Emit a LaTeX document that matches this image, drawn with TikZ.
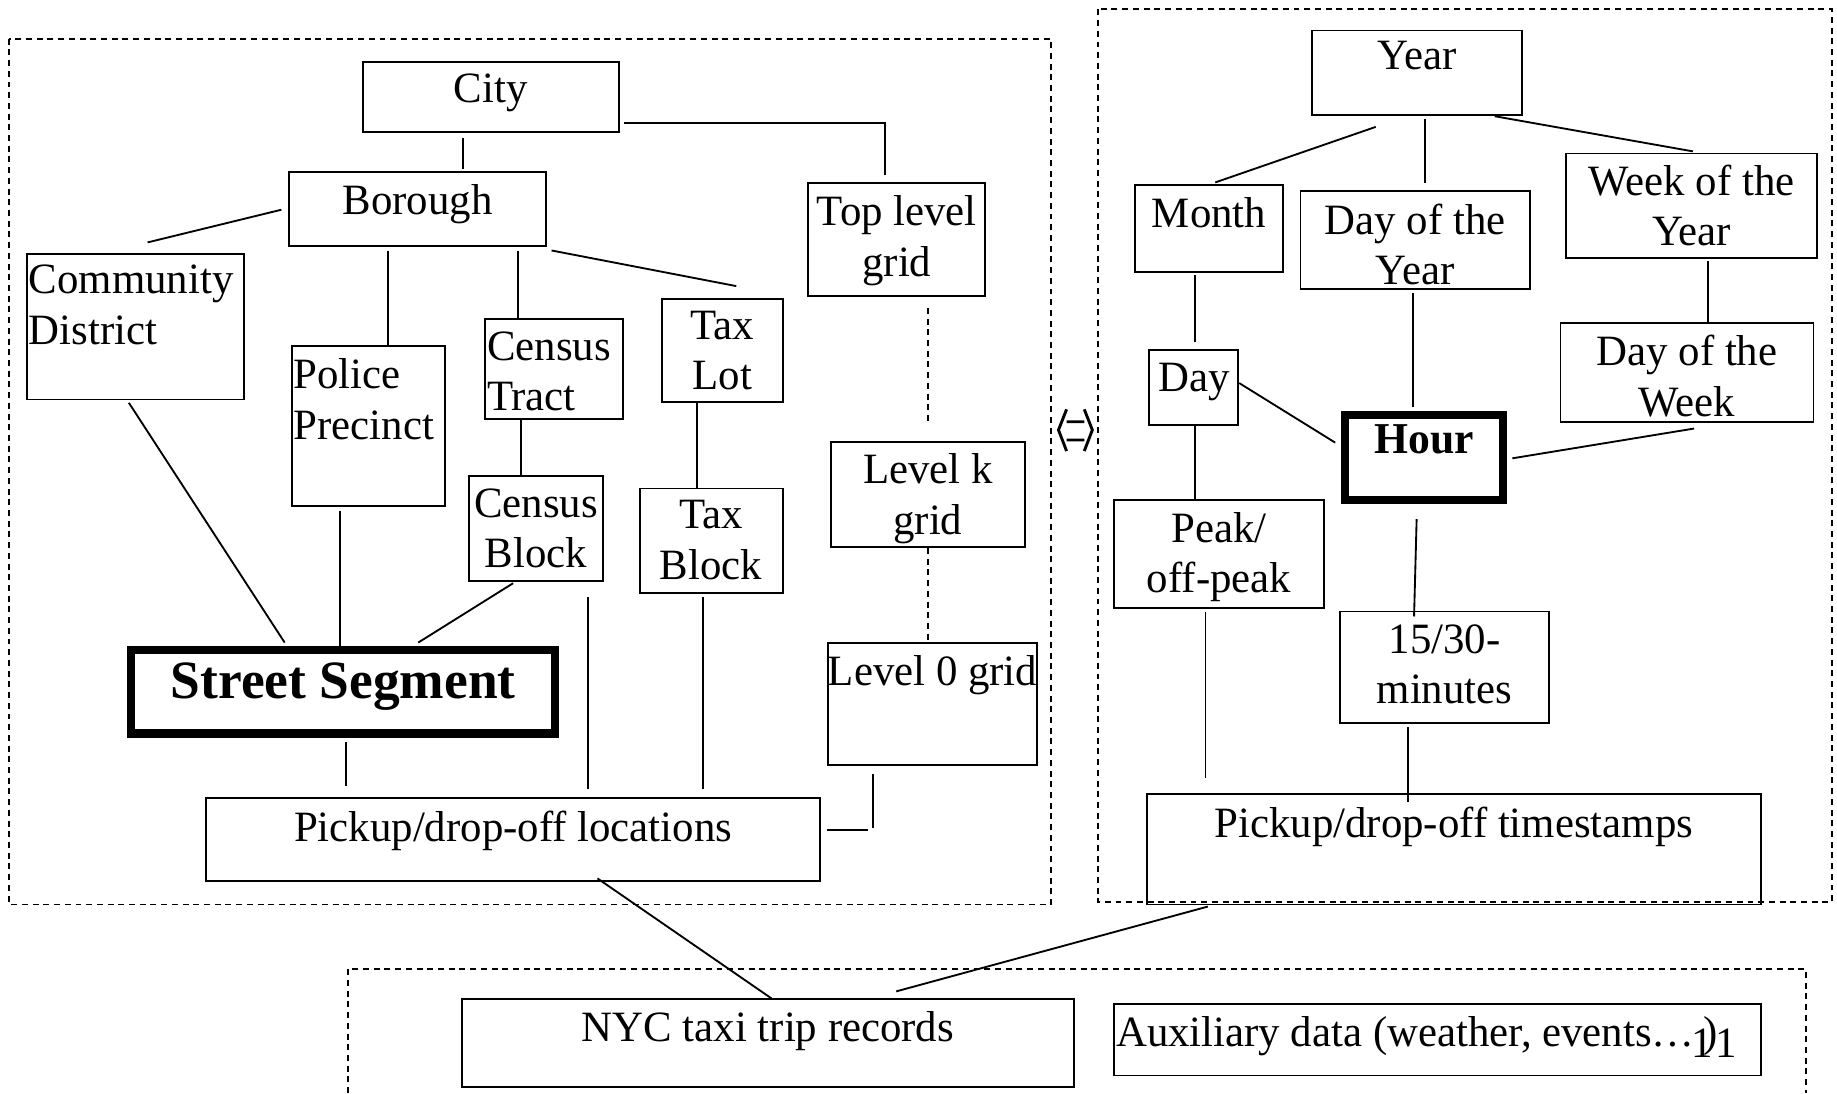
\documentclass[tikz,border=0pt]{standalone}
\usepackage{fontspec}
\setmainfont{Liberation Serif}[FakeStretch=0.99]
\usetikzlibrary{fit}

% a framed cell spanning two corner points
\newcommand\mkbox[4][]{\node[frm,#1,fit={#3 #4}] (#2) {};}

\begin{document}
\begin{tikzpicture}[x=0.01cm,y=-0.01cm,
  frm/.style={draw,rectangle,inner sep=0pt,line width=0.45pt},
  heavy/.style={line width=2pt},
  txt/.style={inner sep=0pt,yshift=0.7pt},
  lbl/.style={txt,align=center,font=\fontsize{10.5}{12.23}\selectfont},
  lblL/.style={lbl,align=left},
  link/.style={line width=0.45pt},
  dlink/.style={link,dash pattern=on 1.45pt off 1.15pt},
  panel/.style={line width=0.45pt,dash pattern=on 1.45pt off 1.15pt}]
\useasboundingbox (0,0) rectangle (1568,933);

% ---------- dashed group frames ----------
\draw[panel] (8,33) rectangle (897,772);
\draw[panel] (937,8) rectangle (1564,770);
\draw[panel] (297,933) -- (297,827) -- (1541.5,827) -- (1541.5,933);

% ---------- spatial hierarchy ----------
\mkbox{city}{(310,53)}{(528,113)}
\mkbox{borough}{(247,147)}{(466,210)}
\mkbox{comm}{(23,217)}{(208,341)}
\mkbox{police}{(249,295)}{(380,432)}
\mkbox{tract}{(414,272)}{(532,358)}
\mkbox{taxlot}{(565,255)}{(668,343)}
\mkbox{block}{(400,406)}{(515,496)}
\mkbox{taxblock}{(546,417)}{(668,506)}
\mkbox{toplvl}{(690,156)}{(841,253)}
\mkbox{lvlk}{(709,377)}{(875,467)}
\mkbox{lvl0}{(707,549)}{(885,653)}
\mkbox[heavy]{street}{(112,555)}{(474,626)}
\mkbox{loc}{(176,681)}{(700,752)}

\node[lbl,anchor=north] (cityT) at (419,65) {City};
\node[lbl,anchor=north] (boroughT) at (356.5,159) {Borough};
\node[lblL,anchor=north west] (commT) at (24,228) {Community\\District};
\node[lblL,anchor=north west] (policeT) at (250,308) {Police\\Precinct};
\node[lblL,anchor=north west] (tractT) at (415,285) {Census\\Tract};
\node[lbl,anchor=north] (taxlotT) at (616.5,267) {Tax\\Lot};
\node[lbl,anchor=north] (blockT) at (457.5,419) {Census\\Block};
\node[lbl,anchor=north] (taxblockT) at (607,429) {Tax\\Block};
\node[lbl,anchor=north] (toplvlT) at (765.5,169) {Top level\\grid};
\node[lbl,anchor=north] (lvlkT) at (792,389) {Level k\\grid};
\node[lbl,anchor=north] (lvl0T) at (796,561) {Level 0 grid};
\node[txt,anchor=north,font=\bfseries\fontsize{13.1}{16}\selectfont] (streetT) at (293,567.6) {Street Segment};
\node[lbl,anchor=north] (locT) at (438,694) {Pickup/drop-off locations};

\draw[link] ([shift={(-24,4)}]city.south) -- ([shift={(38.5,-2)}]borough.north);
\draw[link] ([shift={(4,22)}]city.east) -| ([shift={(-10,-6)}]toplvl.north);
\draw[link] ([shift={(-6,0.5)}]borough.west) -- ([shift={(10.5,-9.3)}]comm.north);
\draw[link] ([shift={(-25,3.4)}]borough.south) -- ([shift={(17,0)}]police.north);
\draw[link] ([shift={(85.5,3.4)}]borough.south) -- ([shift={(-31,0)}]tract.north);
\draw[link] ([shift={(4,3)}]borough.south east) -- ([shift={(12,-10)}]taxlot.north);
\draw[link] ([shift={(-28,0)}]tract.south) -- ([shift={(-12.5,0)}]block.north);
\draw[link] ([shift={(-21.5,0)}]taxlot.south) -- ([shift={(-12,0)}]taxblock.north);
\draw[dlink] ([shift={(26.5,9)}]toplvl.south) -- ([shift={(0,-13)}]lvlk.north);
\draw[dlink] (lvlk.south) -- ([shift={(-4,0)}]lvl0.north);
\draw[link] ([shift={(-5.5,2)}]comm.south) -- ([shift={(-50,-3)}]street.north);
\draw[link] ([shift={(-24.5,3)}]police.south) -- ([shift={(-3,0)}]street.north);
\draw[link] ([shift={(-19.5,1)}]block.south) -- ([shift={(64,-3)}]street.north);
\draw[link] ([shift={(2,4)}]street.south) -- ([shift={(-143,-9)}]loc.north);
\draw[link] ([shift={(44.5,13)}]block.south) -- ([shift={(64,-7)}]loc.north);
\draw[link] ([shift={(-7,3)}]taxblock.south) -- ([shift={(162,-7)}]loc.north);
\draw[link] ([shift={(5,-8)}]loc.east) -- ++(35,0)
            ([shift={(-50.6,7)}]lvl0.south) -- ++(0,46);

% ---------- link between the two hierarchies ----------
\draw[line width=0.7pt,line join=miter]
  (910.4,349.4) -- (903.5,367) -- (910.4,385)
  (925.5,349.4) -- (932.4,367) -- (925.5,385)
  (910.4,360) -- (925.5,360)
  (910.4,375.6) -- (925.5,375.6);

% ---------- temporal hierarchy ----------
\mkbox{year}{(1120,26)}{(1299,98)}
\mkbox{month}{(969,158)}{(1095,232)}
\mkbox{doy}{(1110,163)}{(1306,247)}
\mkbox{woy}{(1337,131)}{(1551,220)}
\mkbox{dow}{(1332,276)}{(1548,360)}
\mkbox{day}{(981,299)}{(1057,363)}
\mkbox[heavy]{hour}{(1148,354)}{(1283,427)}
\mkbox{peak}{(951,427)}{(1130,519)}
\mkbox{mins}{(1144,522)}{(1322,617)}
\mkbox{ts}{(979,678)}{(1503,772)}

\node[lbl,anchor=north] (yearT) at (1209.5,37) {Year};
\node[lbl,anchor=north] (monthT) at (1032,170) {Month};
\node[lbl,anchor=north] (doyT) at (1208,176) {Day of the\\Year};
\node[lbl,anchor=north] (woyT) at (1444,142.5) {Week of the\\Year};
\node[lbl,anchor=north] (dowT) at (1440,288) {Day of the\\Week};
\node[lbl,anchor=north] (dayT) at (1019,312) {Day};
\node[txt,anchor=north,font=\bfseries\fontsize{10.7}{12.23}\selectfont] (hourT) at (1215.5,364) {Hour};
\node[lbl,anchor=north] (peakT) at (1040.5,439) {Peak/\\off-peak};
\node[lbl,anchor=north] (minsT) at (1233,535) {15/30-\\minutes};
\node[lbl,anchor=north] (tsT) at (1241,691) {Pickup/drop-off timestamps};

\draw[link] ([shift={(-35.2,9.5)}]year.south) -- ([shift={(5.3,-1.5)}]month.north);
\draw[link] ([shift={(6.5,3)}]year.south) -- ([shift={(8,-6)}]doy.north);
\draw[link] ([shift={(-24,0.4)}]year.south east) -- ([shift={(1,-1)}]woy.north);
\draw[link] ([shift={(-12,2)}]month.south) -- ([shift={(1,-6)}]day.north);
\draw[link] ([shift={(14,2)}]woy.south) -- ([shift={(18,1)}]dow.north);
\draw[link] ([shift={(-2,2)}]doy.south) -- ([shift={(-9.5,-3.5)}]hour.north);
\draw[link] ([shift={(0,-4)}]day.east) -- ([shift={(-4.8,-12.7)}]hour.west);
\draw[link] ([shift={(6,5)}]dow.south) -- ([shift={(4.4,0.7)}]hour.east);
\draw[link] ([shift={(1,0)}]day.south) -- ([shift={(-20.5,0)}]peak.north);
\draw[link] ([shift={(-6.3,12.6)}]hour.south) -- ([shift={(-26,5)}]mins.north);
\draw[link] ([shift={(-11.5,3)}]peak.south) -- ([shift={(-212,-13)}]ts.north);
\draw[link] ([shift={(-31,3)}]mins.south) -- ([shift={(-39,7)}]ts.north);

% ---------- raw data sources ----------
\mkbox{nyc}{(394,853)}{(917,928)}
\mkbox{aux}{(951,857)}{(1503,918)}
\node[lbl,anchor=north] (nycT) at (655.5,865) {NYC taxi trip records};
\node[lbl,anchor=north west] (auxT) at (952,869)
  {Auxiliary data (weather, events\ldots\kern-0.03cm\raisebox{-0.1cm}{1}\kern-0.08cm)\kern-0.02cm\raisebox{-0.1cm}{1}};

\draw[link] ([shift={(-210,1)}]ts.south) -- ([shift={(109.5,-6)}]nyc.north);
\draw[link] ([shift={(72,-3)}]loc.south) -- ([shift={(3,0)}]nyc.north);
\end{tikzpicture}
\end{document}
